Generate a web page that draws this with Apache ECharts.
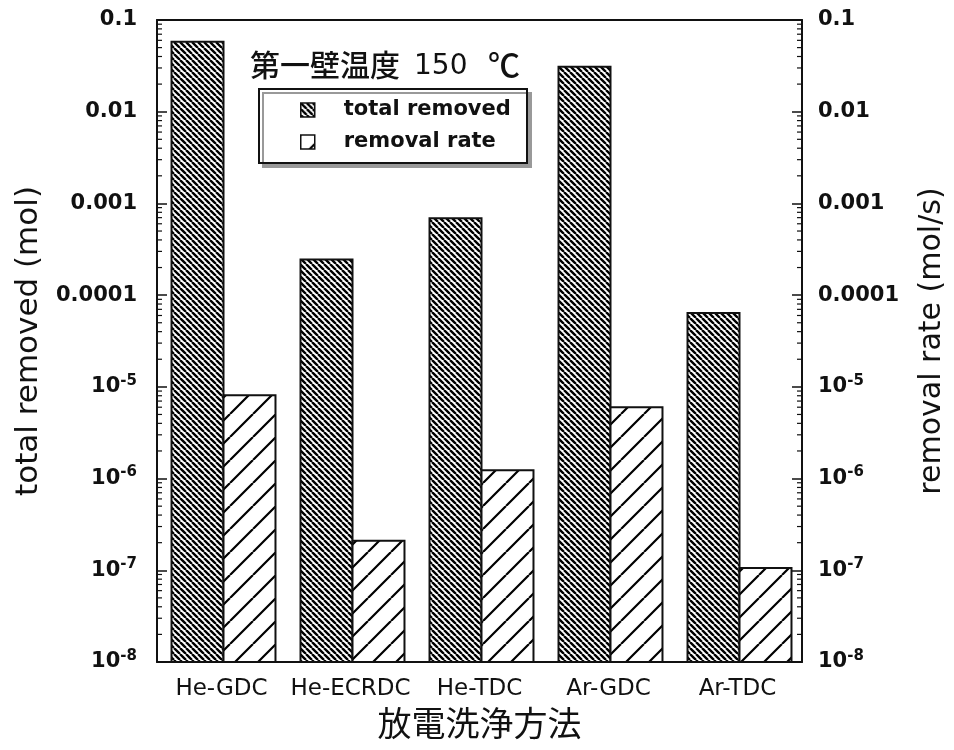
<!DOCTYPE html>
<html>
<head>
<meta charset="utf-8">
<script src="https://cdn.jsdelivr.net/npm/echarts@6/dist/echarts.min.js"></script>
<style>
  html, body { margin: 0; padding: 0; background: #fff; }
  #chart { width: 954px; height: 750px; }
</style>
</head>
<body>
<div id="chart"></div>
<script>
// Discharge cleaning methods
const categories = ['He-GDC', 'He-ECRDC', 'He-TDC', 'Ar-GDC', 'Ar-TDC'];
// Total amount removed (mol)
const totalRemoved = [0.058, 2.45e-4, 6.9e-4, 0.031, 6.4e-5];
// Removal rate (mol/s)
const removalRate = [8.1e-6, 2.1e-7, 1.23e-6, 6.0e-6, 1.06e-7];
// Decade tick labels, from 1e-8 up to 0.1
const tickLabels = ['10^-8', '10^-7', '10^-6', '10^-5', '0.0001', '0.001', '0.01', '0.1'];
const minExp = -8;
const maxExp = -1;

const FONT = '"DejaVu Sans", sans-serif';
const CJK = '"Noto Sans CJK JP", sans-serif';

// Hatch fill: diagonal lines repeated on a square tile
function hatch(size, width, backslash) {
  const c = document.createElement('canvas');
  c.width = size; c.height = size;
  const g = c.getContext('2d');
  g.fillStyle = '#fff';
  g.fillRect(0, 0, size, size);
  g.strokeStyle = '#000';
  g.lineWidth = width;
  g.beginPath();
  for (const o of [-size, 0, size]) {
    if (backslash) {
      g.moveTo(o, 0); g.lineTo(o + size, size);
    } else {
      g.moveTo(o, size); g.lineTo(o + size, 0);
    }
  }
  g.stroke();
  return { image: c, repeat: 'repeat' };
}

const denseHatch = hatch(6, 2.4, true);
const sparseHatch = hatch(23, 2.2, false);

function formatTick(v) {
  const e = Math.round(Math.log10(v));
  const s = tickLabels[e - minExp];
  if (s === undefined) return '';
  if (s.indexOf('^') >= 0) {
    const p = s.split('^');
    return '{n|' + p[0] + '}{s|' + p[1] + '}';
  }
  return '{n|' + s + '}';
}

const richLabel = {
  n: { fontFamily: FONT, fontSize: 21, fontWeight: 'bold', color: '#111' },
  s: { fontFamily: FONT, fontSize: 15, fontWeight: 'bold', color: '#111', padding: [0, 0, 12, 0] }
};

// minor tick values 2..9 x 10^k inside each decade
const minorValues = [];
for (let k = minExp; k < maxExp; k++) {
  for (let m = 2; m <= 9; m++) minorValues.push(m * Math.pow(10, k));
}

const yCommon = {
  type: 'log',
  logBase: 10,
  min: Math.pow(10, minExp),
  max: Math.pow(10, maxExp),
  axisLine: { show: true, lineStyle: { color: '#111', width: 2 } },
  axisTick: { show: true, inside: true, length: 10, lineStyle: { color: '#111', width: 1.5 } },
  splitLine: { show: false },
  axisLabel: { formatter: formatTick, rich: richLabel }
};

// bars rise from the bottom of the log axis; side -1 = left half, +1 = right half
function barRenderer(side) {
  return function (params, api) {
    const i = api.value(0);
    const top = api.coord([i, api.value(1)]);
    const base = api.coord([i, Math.pow(10, minExp)]);
    const band = api.size([1, 0])[0];
    const w = band * 0.403;
    const cx = top[0] + 2;
    const x = side < 0 ? cx - w : cx;
    return {
      type: 'rect',
      shape: { x: x, y: top[1], width: w, height: base[1] - top[1] },
      style: api.style({ stroke: '#111', lineWidth: 2 })
    };
  };
}

// plot heading: wall temperature
function headingPart(x, y, text, font) {
  return {
    type: 'text', x: x, y: y, z: 3,
    style: { text: text, font: font, fill: '#111', align: 'left', verticalAlign: 'middle' }
  };
}

const chart = echarts.init(document.getElementById('chart'));
chart.setOption({
  animation: false,
  backgroundColor: '#fff',
  grid: { left: 157, right: 152, top: 20, bottom: 88, outerBoundsMode: 'none', containLabel: false },
  xAxis: [
    {
      type: 'category',
      data: categories,
      position: 'bottom',
      axisLine: { lineStyle: { color: '#111', width: 2 } },
      axisTick: { inside: true, length: 10, lineStyle: { color: '#111', width: 1.5 } },
      axisLabel: { interval: 0, fontFamily: FONT, fontSize: 23, color: '#111', margin: 16 },
      name: '放電洗浄方法',
      nameLocation: 'middle',
      nameGap: 33,
      nameTextStyle: { fontFamily: CJK, fontSize: 34, color: '#111' }
    },
    {
      type: 'category',
      data: categories,
      position: 'top',
      axisLine: { lineStyle: { color: '#111', width: 2 } },
      axisTick: { inside: true, length: 10, lineStyle: { color: '#111', width: 1.5 } },
      axisLabel: { show: false }
    }
  ],
  yAxis: [
    Object.assign({}, yCommon, {
      position: 'left',
      axisLabel: Object.assign({}, yCommon.axisLabel, { margin: 20 }),
      name: 'total removed (mol)',
      nameLocation: 'middle',
      nameRotate: 90,
      nameGap: 113,
      nameTextStyle: { fontFamily: FONT, fontSize: 31, color: '#111' }
    }),
    Object.assign({}, yCommon, {
      position: 'right',
      axisLabel: Object.assign({}, yCommon.axisLabel, { margin: 16 }),
      name: 'removal rate (mol/s)',
      nameLocation: 'middle',
      nameRotate: 90,
      nameGap: 115,
      nameTextStyle: { fontFamily: FONT, fontSize: 30, color: '#111' }
    })
  ],
  legend: {
    orient: 'vertical',
    left: 300,
    top: 98,
    itemWidth: 14,
    itemHeight: 14,
    itemGap: 8,
    padding: 0,
    icon: 'rect',
    data: [
      { name: 'total removed', itemStyle: { color: denseHatch, borderColor: '#111', borderWidth: 1.5 } },
      { name: 'removal rate', itemStyle: { color: sparseHatch, borderColor: '#111', borderWidth: 1.5 } }
    ],
    textStyle: { fontFamily: FONT, fontSize: 21, fontWeight: 'bold', color: '#111', padding: [0, 0, 0, 24], lineHeight: 24 }
  },
  graphic: [
    {
      type: 'rect',
      left: 258, top: 88,
      shape: { width: 268, height: 74 },
      style: { fill: '#fff', stroke: '#111', lineWidth: 2, shadowColor: '#999', shadowOffsetX: 4, shadowOffsetY: 4 },
      z: 1
    },
    headingPart(250, 65, '第一壁温度', '500 30px ' + CJK),
    headingPart(414, 67, '150', '28px ' + FONT),
    headingPart(488, 65, '℃', '500 32px ' + CJK)
  ],
  series: [
    {
      name: 'total removed',
      type: 'custom',
      yAxisIndex: 0,
      data: totalRemoved.map((v, i) => [i, v]),
      encode: { x: 0, y: 1 },
      itemStyle: { color: denseHatch, borderColor: '#111', borderWidth: 2 },
      renderItem: barRenderer(-1),
      z: 2
    },
    {
      name: 'removal rate',
      type: 'custom',
      yAxisIndex: 0,
      data: removalRate.map((v, i) => [i, v]),
      encode: { x: 0, y: 1 },
      itemStyle: { color: sparseHatch, borderColor: '#111', borderWidth: 2 },
      renderItem: barRenderer(1),
      z: 2
    },
    {
      // short minor ticks on both vertical axes
      type: 'custom',
      yAxisIndex: 0,
      silent: true,
      z: 5,
      data: minorValues.map(v => [0, v]),
      encode: { x: 0, y: 1 },
      renderItem: function (params, api) {
        const y = api.coord([0, api.value(1)])[1];
        const cs = params.coordSys;
        const st = { stroke: '#111', lineWidth: 1.2 };
        return {
          type: 'group',
          children: [
            { type: 'line', shape: { x1: cs.x, y1: y, x2: cs.x + 5, y2: y }, style: st },
            { type: 'line', shape: { x1: cs.x + cs.width - 5, y1: y, x2: cs.x + cs.width, y2: y }, style: st }
          ]
        };
      }
    }
  ]
});
</script>
</body>
</html>
